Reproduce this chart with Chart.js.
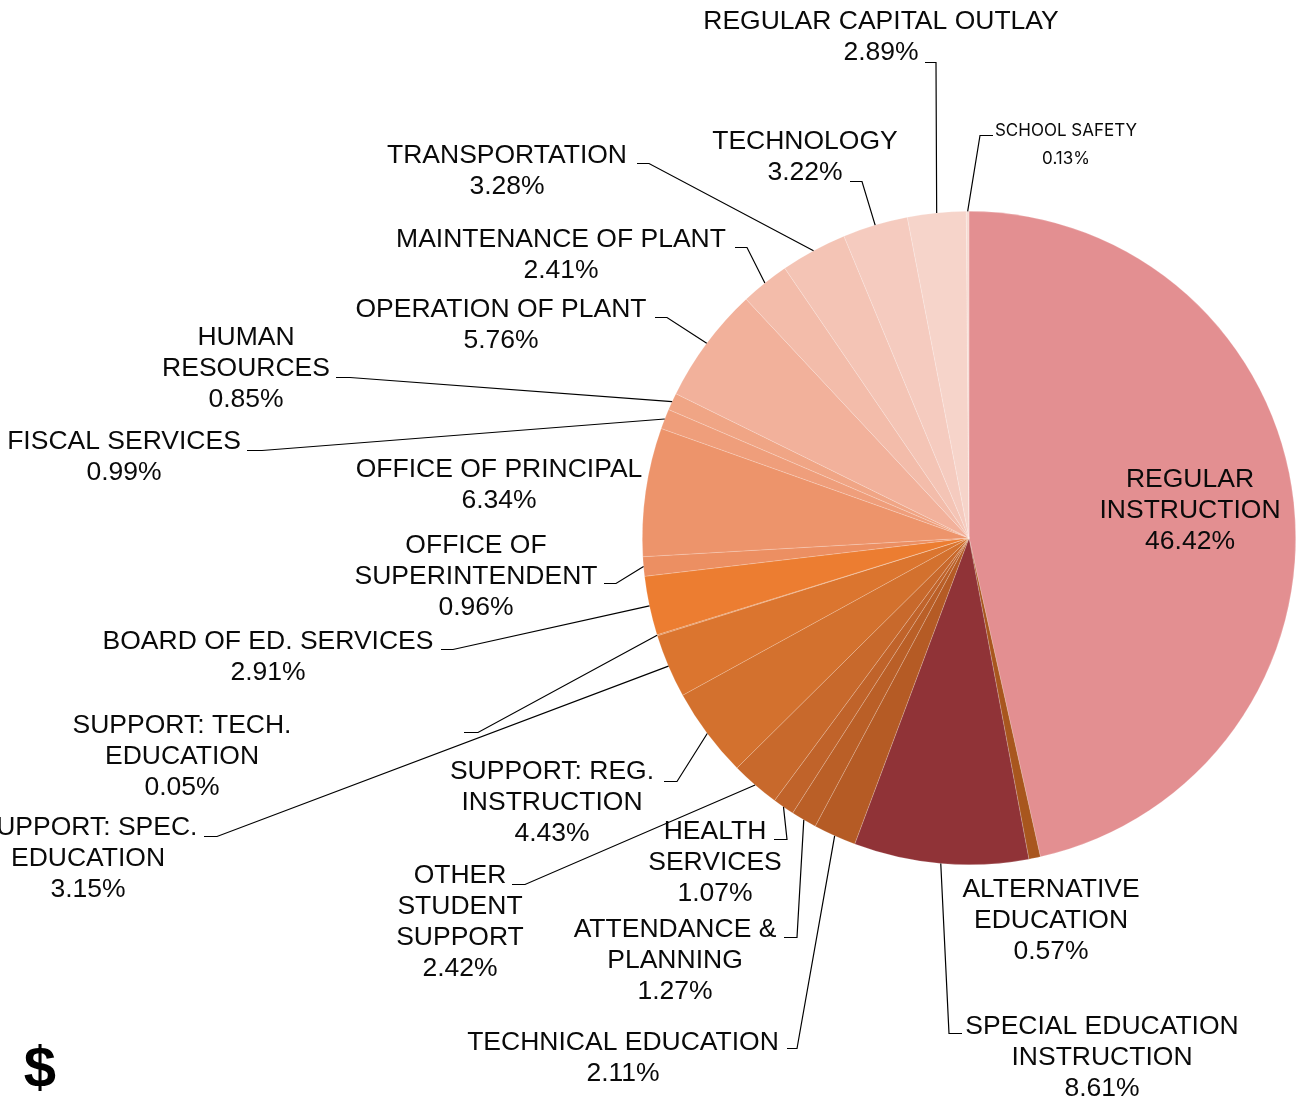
<!DOCTYPE html>
<html>
<head>
<meta charset="utf-8">
<title>Expenditures by function</title>
<script src="https://cdn.jsdelivr.net/npm/chart.js@4.4.1/dist/chart.umd.min.js"></script>
<style>
  html, body { margin: 0; padding: 0; background: #fff; }
  #wrap { width: 1299px; height: 1100px; }
</style>
</head>
<body>
<div id="wrap"><canvas id="budgetChart" width="1299" height="1100"></canvas></div>
<script>
// slices, clockwise from 12 o'clock
const categories = [
    ['REGULAR', 'INSTRUCTION'],
    ['ALTERNATIVE', 'EDUCATION'],
    ['SPECIAL EDUCATION', 'INSTRUCTION'],
    ['TECHNICAL EDUCATION'],
    ['ATTENDANCE &', 'PLANNING'],
    ['HEALTH', 'SERVICES'],
    ['OTHER', 'STUDENT', 'SUPPORT'],
    ['SUPPORT: REG.', 'INSTRUCTION'],
    ['SUPPORT: SPEC.', 'EDUCATION'],
    ['SUPPORT: TECH.', 'EDUCATION'],
    ['BOARD OF ED. SERVICES'],
    ['OFFICE OF', 'SUPERINTENDENT'],
    ['OFFICE OF PRINCIPAL'],
    ['FISCAL SERVICES'],
    ['HUMAN', 'RESOURCES'],
    ['OPERATION OF PLANT'],
    ['MAINTENANCE OF PLANT'],
    ['TRANSPORTATION'],
    ['TECHNOLOGY'],
    ['REGULAR CAPITAL OUTLAY'],
    ['SCHOOL SAFETY']
];

const shares = [46.42, 0.57, 8.61, 2.11, 1.27, 1.07, 2.42, 4.43, 3.15, 0.05, 2.91,
                0.96, 6.34, 0.99, 0.85, 5.76, 2.41, 3.28, 3.22, 2.89, 0.13];

const sliceColors = [
    '#e38f91', '#a8561e', '#903337', '#b55b25', '#ba5f27', '#c0632a', '#c8692c',
    '#d3712e', '#db752f', '#dd7630', '#ec7d31', '#ec8f62', '#ed946b', '#ef9e7b',
    '#f0a585', '#f2b19b', '#f3bcaa', '#f4c4b5', '#f5cbbf', '#f6d4ca', '#f7dbd3'
];

// where each label sits (x, y of first line) and the elbow of its leader line
const labelLayout = [
    { x: 1190, y: 478 },
    { x: 1051, y: 888 },
    { x: 1102, y: 1025, elbow: [949, 1033], tip: 962 },
    { x: 623, y: 1041, elbow: [797, 1048], tip: 787 },
    { x: 675, y: 928, elbow: [797, 937], tip: 784 },
    { x: 715, y: 830, elbow: [787, 839], tip: 774 },
    { x: 460, y: 874, elbow: [525, 884], tip: 512 },
    { x: 552, y: 770, elbow: [677, 781], tip: 664 },
    { x: 88, y: 826, elbow: [217, 836], tip: 204 },
    { x: 182, y: 724, elbow: [478, 732], tip: 464 },
    { x: 268, y: 640, elbow: [453, 649], tip: 441 },
    { x: 476, y: 544, elbow: [616, 583], tip: 604 },
    { x: 499, y: 468 },
    { x: 124, y: 440, elbow: [262, 450], tip: 247 },
    { x: 246, y: 336, elbow: [350, 377], tip: 336 },
    { x: 501, y: 308, elbow: [667, 317], tip: 655 },
    { x: 561, y: 238, elbow: [747, 247], tip: 735 },
    { x: 507, y: 154, elbow: [649, 163], tip: 637 },
    { x: 805, y: 140, elbow: [862, 181], tip: 850 },
    { x: 881, y: 20, elbow: [936, 62], tip: 925 },
    { x: 1066, y: 130, elbow: [980, 135], tip: 993, small: true }
];

const LABEL_FONT = '26.5px "Liberation Sans", Arial, sans-serif';
const SMALL_FONT = '17px Inter, "Open Sans", sans-serif';

const outsideLabels = {
    id: 'outsideLabels',
    afterDatasetsDraw(chart) {
        const ctx = chart.ctx;
        const arcs = chart.getDatasetMeta(0).data;
        ctx.save();
        arcs.forEach((arc, i) => {
            const lay = labelLayout[i];
            const lines = categories[i].concat([shares[i].toFixed(2) + '%']);

            if (lay.elbow) {
                const mid = (arc.startAngle + arc.endAngle) / 2;
                const sx = arc.x + Math.cos(mid) * arc.outerRadius;
                const sy = arc.y + Math.sin(mid) * arc.outerRadius;
                ctx.beginPath();
                ctx.moveTo(sx, sy);
                ctx.lineTo(lay.elbow[0], lay.elbow[1] + 0.5);
                ctx.lineTo(lay.tip, lay.elbow[1] + 0.5);
                ctx.strokeStyle = '#000';
                ctx.lineWidth = 1.2;
                ctx.stroke();
            }

            ctx.fillStyle = '#0a0a0a';
            ctx.textAlign = 'center';
            ctx.textBaseline = 'middle';
            ctx.font = lay.small ? SMALL_FONT : LABEL_FONT;
            const step = lay.small ? 28 : 31;
            const shift = lay.small ? 1 : 2;
            lines.forEach((txt, k) => ctx.fillText(txt, lay.x, lay.y + shift + k * step));
        });

        ctx.font = 'bold 58px "Liberation Sans", Arial, sans-serif';
        ctx.textAlign = 'center';
        ctx.textBaseline = 'alphabetic';
        ctx.fillStyle = '#000';
        ctx.fillText('$', 40, 1087);
        ctx.restore();
    }
};

new Chart(document.getElementById('budgetChart'), {
    type: 'pie',
    data: {
        labels: categories,
        datasets: [{
            data: shares,
            backgroundColor: sliceColors,
            borderColor: 'rgba(255, 255, 255, 0.3)',
            borderWidth: 0.6
        }]
    },
    options: {
        responsive: false,
        animation: false,
        layout: { padding: { left: 642, right: 3, top: 211, bottom: 235 } },
        plugins: {
            legend: { display: false },
            tooltip: { enabled: false }
        }
    },
    plugins: [outsideLabels]
});
</script>
</body>
</html>
